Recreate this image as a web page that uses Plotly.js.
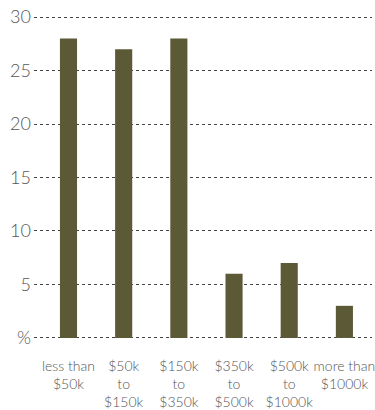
<!DOCTYPE html>
<html>
<head>
<meta charset="utf-8">
<script src="https://cdn.plot.ly/plotly-3.0.1.min.js"></script>
<style>html,body{margin:0;padding:0;background:#fff;}#chart{width:375px;height:410px;}</style>
</head>
<body>
<div id="chart"></div>
<script>
const categories = ["less than<br>$50k", "$50k<br>to<br>$150k", "$150k<br>to<br>$350k", "$350k<br>to<br>$500k", "$500k<br>to<br>$1000k", "more than<br>$1000k"];
const values = [28, 27, 28, 6, 7, 3];
const yTickVals = [0, 5, 10, 15, 20, 25, 30];
const yTickText = ["%", "5", "10", "15", "20", "25", "30"];

const trace = {
  type: "bar",
  x: categories,
  y: values,
  width: 0.31,
  marker: {color: "#5c5937"},
  hoverinfo: "none"
};

const layout = {
  width: 375,
  height: 410,
  margin: {l: 34, r: 3, t: 16, b: 71},
  paper_bgcolor: "#ffffff",
  plot_bgcolor: "#ffffff",
  showlegend: false,
  font: {family: "Lato, 'Open Sans', sans-serif", color: "#555555"},
  xaxis: {
    type: "category",
    range: [-0.625, 5.5],
    showgrid: false,
    zeroline: false,
    showline: false,
    ticks: "",
    tickangle: 0,
    ticklabelstandoff: 17,
    tickfont: {size: 14, color: "#555555", weight: 300}
  },
  yaxis: {
    range: [-0.1, 30.1],
    tickvals: yTickVals,
    ticktext: yTickText,
    showgrid: true,
    gridcolor: "#444444",
    gridwidth: 1,
    griddash: "dot",
    zeroline: false,
    showline: false,
    ticks: "",
    ticklabelstandoff: 2,
    tickfont: {size: 18, color: "#555555", weight: 300}
  }
};

Plotly.newPlot("chart", [trace], layout, {staticPlot: true, displayModeBar: false});
</script>
</body>
</html>
